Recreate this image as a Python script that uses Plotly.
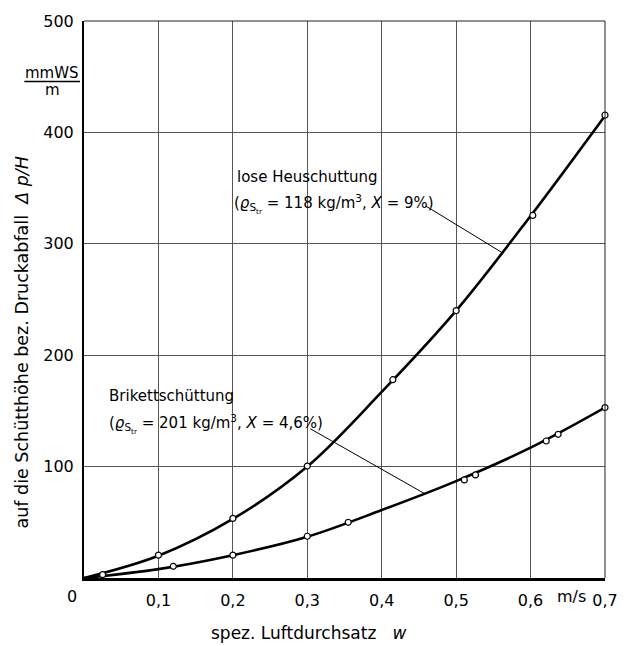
import plotly.graph_objects as go

# ---- data ----
# smooth curves
curve_x = [0.0, 0.1, 0.2, 0.3, 0.4, 0.5, 0.6, 0.7]
heu_curve_y = [0, 20, 53, 100, 167, 240, 325, 415]
brikett_curve_y = [0, 8, 20.5, 37, 61, 87, 117, 153]

# measured points (open circles)
heu_pts_x = [0.025, 0.1, 0.2, 0.3, 0.415, 0.5, 0.603, 0.7]
heu_pts_y = [3, 20.5, 53.5, 100.5, 178, 240, 325.5, 415.5]
brikett_pts_x = [0.12, 0.2, 0.3, 0.355, 0.511, 0.526, 0.621, 0.637, 0.7]
brikett_pts_y = [10.5, 20.5, 37.5, 50, 88, 92.5, 123, 129, 153]

x_tickvals = [0.1, 0.2, 0.3, 0.4, 0.5, 0.6, 0.7]
x_ticktext = ["0,1", "0,2", "0,3", "0,4", "0,5", "0,6", "0,7"]
y_tickvals = [100, 200, 300, 400, 500]
y_ticktext = ["100", "200", "300", "400", "500"]

FONT = "DejaVu Sans"
PW, PH = 524, 562  # plot area size in px


def px_x(p):
    return (p - 84) / PW


def px_y(p):
    return (578 - p) / PH


fig = go.Figure()
for cx, cy in [(curve_x, heu_curve_y), (curve_x, brikett_curve_y)]:
    fig.add_trace(go.Scatter(x=cx, y=cy, mode="lines", line=dict(color="black", width=2.6, shape="spline", smoothing=1.0),
                             hoverinfo="skip", showlegend=False, cliponaxis=False))
for px, py in [(heu_pts_x, heu_pts_y), (brikett_pts_x, brikett_pts_y)]:
    fig.add_trace(go.Scatter(x=px, y=py, mode="markers",
                             marker=dict(symbol="circle", size=6, color="white", line=dict(color="black", width=1.2)),
                             showlegend=False, cliponaxis=False))

fig.update_layout(
    width=630, height=646,
    margin=dict(l=84, r=22, t=16, b=68),
    paper_bgcolor="white", plot_bgcolor="white",
    font=dict(family=FONT, size=15, color="black"),
    xaxis=dict(range=[0, 0.7], tickvals=x_tickvals, ticktext=x_ticktext, showgrid=True, gridcolor="#555", gridwidth=1,
               zeroline=False, showline=True, linecolor="black", linewidth=2.5, ticks="", ticklabelstandoff=6,
               tickfont=dict(size=16)),
    yaxis=dict(range=[0, 500], tickvals=y_tickvals, ticktext=y_ticktext, showgrid=True, gridcolor="#555", gridwidth=1,
               zeroline=False, showline=True, linecolor="black", linewidth=2, ticks="", ticklabelstandoff=5,
               tickfont=dict(size=16)),
)

# frame top/right
fig.add_shape(type="line", xref="paper", yref="paper", x0=0, x1=1, y0=1, y1=1, line=dict(color="#222", width=1))
fig.add_shape(type="line", xref="paper", yref="paper", x0=1, x1=1, y0=0, y1=1, line=dict(color="#222", width=1))
# fraction bar of unit label
fig.add_shape(type="line", xref="paper", yref="paper", x0=px_x(24), x1=px_x(80), y0=px_y(77), y1=px_y(77),
              line=dict(color="black", width=1.5))

# leader lines
fig.add_shape(type="line", x0=0.459, y0=334, x1=0.562, y1=292, line=dict(color="black", width=1))
fig.add_shape(type="line", x0=0.304, y0=134, x1=0.457, y1=76, line=dict(color="black", width=1))

C = dict(xanchor="center", yanchor="middle", showarrow=False)
ann = []
ann.append(dict(x=0, y=0, text="0", xshift=-12, yshift=-18, font=dict(size=16), **C))
ann.append(dict(x=0.655, y=0, text="m/s", yshift=-18, font=dict(size=16), **C))
ann.append(dict(xref="paper", yref="paper", x=px_x(52), y=px_y(68), text="mmWS", font=dict(size=15), **C))
ann.append(dict(xref="paper", yref="paper", x=px_x(52), y=px_y(86), text="m", font=dict(size=15), **C))
ann.append(dict(xref="paper", yref="paper", x=px_x(22), y=px_y(340), textangle=-90,
                text="auf die Schütthöhe bez. Druckabfall  <i>Δ p/H</i>", font=dict(size=17.5), **C))
ann.append(dict(xref="paper", yref="paper", x=px_x(310), y=px_y(633),
                text="spez. Luftdurchsatz   <i>w</i>", font=dict(size=17), **C))
ann.append(dict(x=0.203, y=360, xanchor="left", yanchor="middle", showarrow=False,
                text="lose Heuschuttung", font=dict(size=15)))
ann.append(dict(x=0.199, y=336, xanchor="left", yanchor="middle", showarrow=False,
                text="(<i>ϱ</i><sub>S<sub>tr</sub></sub> = 118 kg/m<sup>3</sup>, <i>X</i> = 9%)",
                font=dict(size=15)))
ann.append(dict(x=0.031, y=163, xanchor="left", yanchor="middle", showarrow=False,
                text="Brikettschüttung", font=dict(size=15)))
ann.append(dict(x=0.031, y=138, xanchor="left", yanchor="middle", showarrow=False,
                text="(<i>ϱ</i><sub>S<sub>tr</sub></sub> = 201 kg/m<sup>3</sup>, <i>X</i> = 4,6%)",
                font=dict(size=15)))
fig.update_layout(annotations=ann)

fig.write_html("out.html")
